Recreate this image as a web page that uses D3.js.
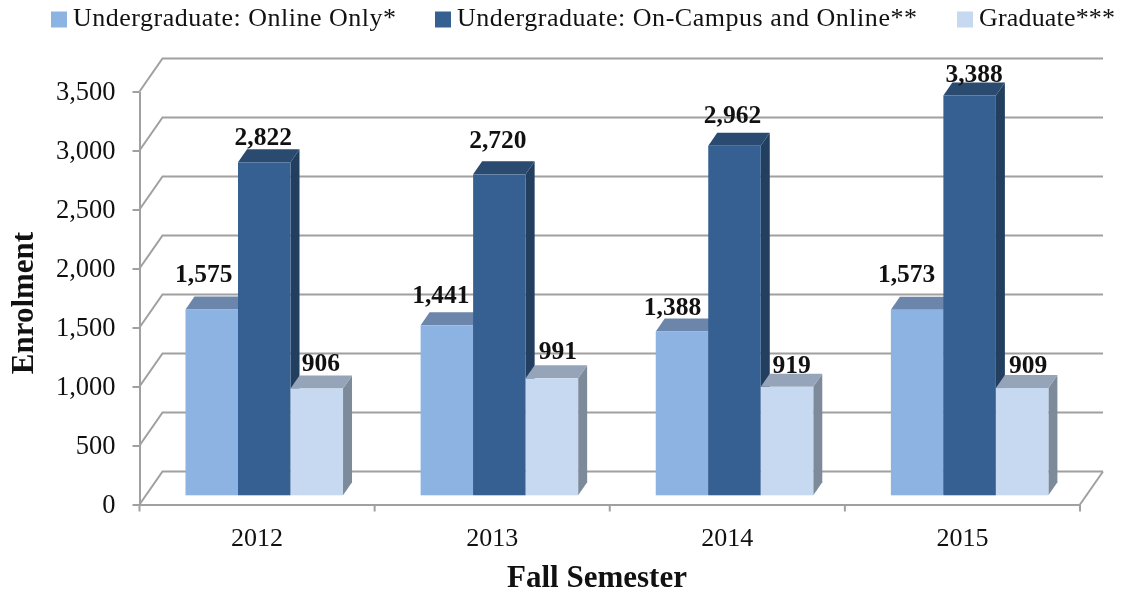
<!DOCTYPE html>
<html>
<head>
<meta charset="utf-8">
<script src="https://cdn.jsdelivr.net/npm/d3@7"></script>
<style>
  html, body { margin: 0; padding: 0; background: #fff; }
  svg { display: block; filter: blur(0.4px); }
  text { font-family: "Liberation Serif", serif; fill: #111; }
</style>
</head>
<body>
<svg id="chart" width="1121" height="594"></svg>
<script>
var years = ['2012', '2013', '2014', '2015']
var seriesNames = ['Undergraduate: Online Only*', 'Undergraduate: On-Campus and Online**', 'Graduate***']
var onlineOnly = [1575, 1441, 1388, 1573]
var onCampusOnline = [2822, 2720, 2962, 3388]
var graduate = [906, 991, 919, 909]
var yTicks = [0, 500, 1000, 1500, 2000, 2500, 3000, 3500]
var seriesValues = [onlineOnly, onCampusOnline, graduate]

// colours per series
var frontColors = ['#8db3e2', '#366092', '#c6d9f1']
var topColors = ['#6b86aa', '#2a4a70', '#95a4b8']
var sideColors = ['#5f789a', '#233f60', '#7c8a9a']

// hand placed label nudges, [dx, dy] per year per series
var labelNudge = [
    [[-8, -14.5], [-1, -3.9], [4, -4.6]],
    [[-6, -9.4], [-1.5, -13.7], [6, -6]],
    [[-9.5, -3.3], [-2, -10], [4.5, -0.7]],
    [[-10.5, -14.5], [4.5, -1], [6, -2.2]]
]

var svg = d3.select('#chart')

// wall depth and bar depth
var wallX = 23, wallY = 33
var depthX = 9, depthY = 13
var floorX = 7.2, floorY = 9.2

var x = d3.scaleBand().domain(years).range([139.5, 1080]).paddingInner(0.33).paddingOuter(0.165)
var xSeries = d3.scaleBand().domain([0, 1, 2]).range([0, x.bandwidth()])
var y = d3.scaleLinear().domain([0, 3500]).range([504.5, 91.5])

var gridColor = '#a0a0a0'
var gridWidth = 2

// gridlines on the left and back wall
svg.append('g').selectAll('path').data(yTicks).enter().append('path')
    .attr('d', d => `M 139.5 ${y(d)} L ${139.5 + wallX} ${y(d) - wallY} L ${1080 + wallX} ${y(d) - wallY}`)
    .attr('fill', 'none')
    .attr('stroke', gridColor)
    .attr('stroke-width', gridWidth)

// right edge of the floor
svg.append('line')
    .attr('x1', 1080).attr('y1', y(0))
    .attr('x2', 1080 + wallX).attr('y2', y(0) - wallY)
    .attr('stroke', gridColor).attr('stroke-width', gridWidth)

// axes
var yAxis = d3.axisLeft(y).tickValues(yTicks).tickFormat(d3.format(',')).tickSize(7).tickSizeOuter(0).tickPadding(17)
var yG = svg.append('g').attr('transform', 'translate(139.5, 0)').call(yAxis)
yG.selectAll('text').style('font-size', '26.5px')
yG.selectAll('line').attr('stroke', gridColor).attr('stroke-width', gridWidth)
yG.select('.domain').attr('stroke', gridColor).attr('stroke-width', gridWidth)

var xAxis = d3.axisBottom(x).tickSize(0).tickPadding(23)
var xG = svg.append('g').attr('transform', `translate(0, ${y(0)})`).call(xAxis)
xG.selectAll('text').style('font-size', '26px')
xG.select('.domain').attr('stroke', gridColor).attr('stroke-width', gridWidth)

// x ticks sit on the category edges
svg.append('g').selectAll('line').data(d3.range(years.length + 1)).enter().append('line')
    .attr('x1', d => x.range()[0] + d * x.step())
    .attr('x2', d => x.range()[0] + d * x.step())
    .attr('y1', y(0))
    .attr('y2', y(0) + 7)
    .attr('stroke', gridColor).attr('stroke-width', gridWidth)

// bars
years.forEach(function (year, i) {
    seriesValues.forEach(function (values, s) {
        var left = x(year) + xSeries(s) + floorX
        var right = left + xSeries.bandwidth()
        var bottom = y(0) - floorY
        var top = y(values[i]) - floorY
        var barG = svg.append('g')

        //side
        barG.append('path')
            .attr('d', `M ${right} ${top} L ${right + depthX} ${top - depthY} L ${right + depthX} ${bottom - depthY} L ${right} ${bottom} Z`)
            .attr('fill', sideColors[s])
        //top
        barG.append('path')
            .attr('d', `M ${left} ${top} L ${left + depthX} ${top - depthY} L ${right + depthX} ${top - depthY} L ${right} ${top} Z`)
            .attr('fill', topColors[s])
        //front
        barG.append('rect')
            .attr('x', left)
            .attr('y', top)
            .attr('width', xSeries.bandwidth())
            .attr('height', bottom - top)
            .attr('fill', frontColors[s])
    })
})

// value labels go last so they are on top of the bars
years.forEach(function (year, i) {
    seriesValues.forEach(function (values, s) {
        svg.append('text')
            .attr('x', x(year) + xSeries(s) + floorX + xSeries.bandwidth() / 2 + labelNudge[i][s][0])
            .attr('y', y(values[i]) - floorY - depthY + labelNudge[i][s][1])
            .attr('text-anchor', 'middle')
            .style('font-size', '25.5px')
            .style('font-weight', 'bold')
            .text(d3.format(',')(values[i]))
    })
})

// legend
var legendSwatchX = [51, 435, 957]
var legendTextX = [73, 457, 979]
var legendTextLen = [323, 460, 136]
seriesNames.forEach(function (name, s) {
    svg.append('rect')
        .attr('x', legendSwatchX[s]).attr('y', 11.5)
        .attr('width', 16).attr('height', 16)
        .attr('fill', frontColors[s])
    svg.append('text')
        .attr('x', legendTextX[s]).attr('y', 26)
        .attr('textLength', legendTextLen[s])
        .style('font-size', '26px')
        .text(name)
})

// axis titles
svg.append('text')
    .attr('transform', 'translate(33, 303) rotate(-90)')
    .attr('text-anchor', 'middle')
    .style('font-size', '31px')
    .style('font-weight', 'bold')
    .text('Enrolment')

svg.append('text')
    .attr('x', 597).attr('y', 587)
    .attr('text-anchor', 'middle')
    .style('font-size', '31px')
    .style('font-weight', 'bold')
    .text('Fall Semester')
</script>
</body>
</html>
